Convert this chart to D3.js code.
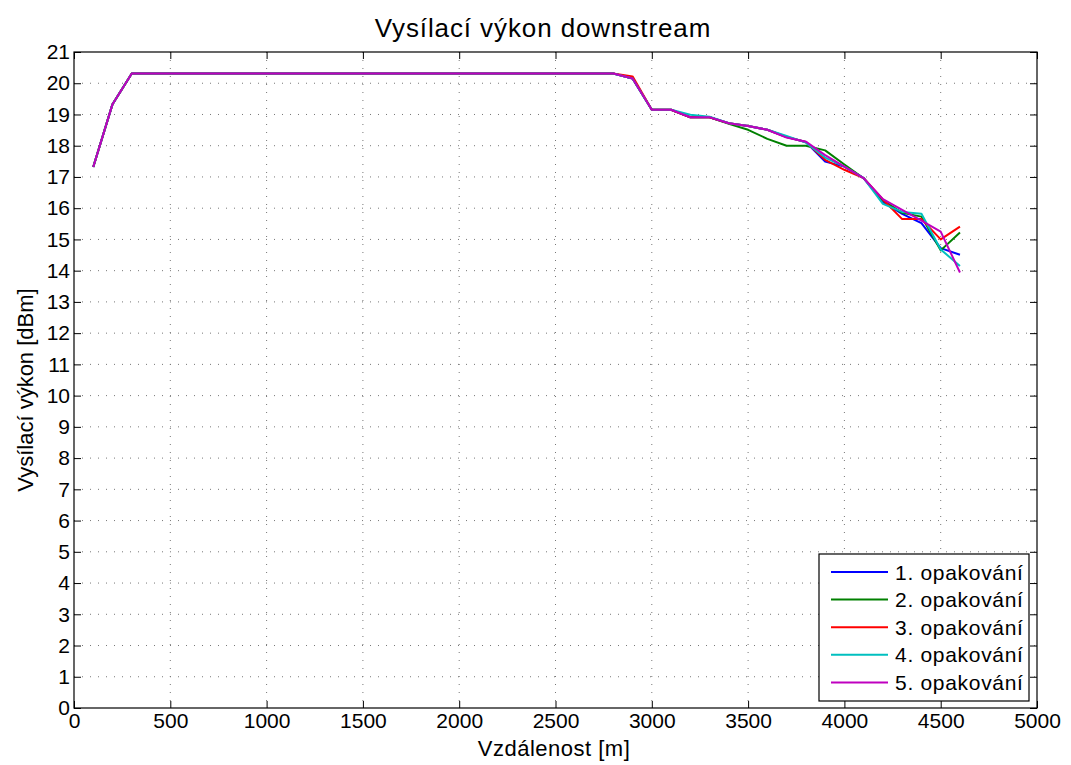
<!DOCTYPE html>
<html><head><meta charset="utf-8">
<script src="https://cdn.jsdelivr.net/npm/d3@7"></script>
<style>body{margin:0;background:#fff;} text{font-family:"Liberation Sans",Arial,sans-serif;fill:#000;}</style>
</head><body>
<svg id="c" width="1071" height="765"></svg>
<script>
const distances = [100,200,300,400,500,600,700,800,900,1000,1100,1200,1300,1400,1500,1600,1700,1800,1900,2000,2100,2200,2300,2400,2500,2600,2700,2800,2900,3000,3100,3200,3300,3400,3500,3600,3700,3800,3900,4000,4100,4200,4300,4400,4500,4600];
const flatPart = [17.32,19.33,20.31,20.31,20.31,20.31,20.31,20.31,20.31,20.31,20.31,20.31,20.31,20.31,20.31,20.31,20.31,20.31,20.31,20.31,20.31,20.31,20.31,20.31,20.31,20.31,20.31,20.31];
const run1 = flatPart.concat([20.15,19.15,19.15,18.91,18.91,18.72,18.63,18.51,18.28,18.12,17.49,17.33,16.96,16.2,15.82,15.52,14.72,14.51]);
const run2 = flatPart.concat([20.15,19.15,19.15,18.91,18.91,18.70,18.51,18.22,18.0,18.0,17.85,17.4,16.96,16.25,15.85,15.73,14.65,15.22]);
const run3 = flatPart.concat([20.22,19.15,19.15,18.91,18.91,18.72,18.63,18.51,18.28,18.12,17.55,17.23,16.96,16.28,15.65,15.65,15.0,15.41]);
const run4 = flatPart.concat([20.15,19.15,19.15,18.99,18.93,18.72,18.63,18.51,18.31,18.1,17.62,17.33,16.96,16.14,15.88,15.82,14.68,14.15]);
const run5 = flatPart.concat([20.15,19.15,19.15,18.91,18.91,18.72,18.63,18.51,18.26,18.13,17.7,17.33,16.96,16.29,15.95,15.6,15.25,13.94]);
const seriesNames = ["1. opakování","2. opakování","3. opakování","4. opakování","5. opakování"];
const seriesColors = ["#0000ff","#008000","#ff0000","#00bfbf","#bf00bf"];
const allRuns = [run1,run2,run3,run4,run5];
const xTicks = [0,500,1000,1500,2000,2500,3000,3500,4000,4500,5000];
const yTicks = d3.range(0,22,1);

const L=74,R=1037,T=52,B=708;
const svg=d3.select("#c");
const x=d3.scaleLinear().domain([0,5000]).range([L,R]);
const y=d3.scaleLinear().domain([0,21]).range([B,T]);

// grid
const g=svg.append("g");
g.selectAll(".gx").data(xTicks.slice(1,-1)).join("line")
 .attr("x1",d=>x(d)).attr("x2",d=>x(d)).attr("y1",T).attr("y2",B)
 .attr("stroke","#777").attr("stroke-width",1).attr("stroke-dasharray","1,7");
g.selectAll(".gy").data(yTicks.slice(1,-1)).join("line")
 .attr("y1",d=>y(d)).attr("y2",d=>y(d)).attr("x1",L).attr("x2",R)
 .attr("stroke","#777").attr("stroke-width",1).attr("stroke-dasharray","1,7");

// lines
const line=d3.line().x((d,i)=>x(distances[i])).y(d=>y(d));
allRuns.forEach((r,k)=>{
  svg.append("path").datum(r).attr("d",line).attr("fill","none")
   .attr("stroke",seriesColors[k]).attr("stroke-width",2).attr("stroke-linejoin","round");
});

// axes with inward ticks
const tl=7;
const fmt=d3.format("d");
const axg=svg.append("g").attr("transform",`translate(0,${B})`).call(d3.axisBottom(x).tickValues(xTicks).tickSizeInner(-tl).tickSizeOuter(0).tickPadding(4).tickFormat(fmt));
const axt=svg.append("g").attr("transform",`translate(0,${T})`).call(d3.axisTop(x).tickValues(xTicks).tickSizeInner(-tl).tickSizeOuter(0).tickFormat(""));
const ayg=svg.append("g").attr("transform",`translate(${L},0)`).call(d3.axisLeft(y).tickValues(yTicks).tickSizeInner(-tl).tickSizeOuter(0).tickPadding(4).tickFormat(fmt));
const ayr=svg.append("g").attr("transform",`translate(${R},0)`).call(d3.axisRight(y).tickValues(yTicks).tickSizeInner(-tl).tickSizeOuter(0).tickFormat(""));
[axg,axt,ayg,ayr].forEach(a=>{a.select(".domain").remove();a.selectAll("line").attr("stroke","#000");});
axg.selectAll("text").attr("font-size",21).attr("fill","#000").attr("font-family","Liberation Sans, Arial, sans-serif").attr("y",4).attr("dy","0.78em");
ayg.selectAll("text").attr("font-size",21).attr("fill","#000").attr("font-family","Liberation Sans, Arial, sans-serif").attr("x",-4);
svg.append("rect").attr("x",L).attr("y",T).attr("width",R-L).attr("height",B-T).attr("fill","none").attr("stroke","#000").attr("stroke-width",1.2);

// titles
svg.append("text").attr("x",543).attr("y",37).attr("text-anchor","middle").attr("font-size",26).attr("letter-spacing",0.9).text("Vysílací výkon downstream");
svg.append("text").attr("x",554).attr("y",756).attr("text-anchor","middle").attr("font-size",22).attr("letter-spacing",0.5).text("Vzdálenost [m]");
svg.append("text").attr("transform",`translate(33,390) rotate(-90)`).attr("text-anchor","middle").attr("font-size",22).text("Vysílací výkon [dBm]");

// legend
const lg=svg.append("g");
lg.append("rect").attr("x",819).attr("y",554).attr("width",210).attr("height",147).attr("fill","#fff").attr("stroke","#000").attr("stroke-width",1.2);
seriesNames.forEach((n,i)=>{
  const yy=572+i*27.6;
  lg.append("line").attr("x1",831).attr("x2",888).attr("y1",yy).attr("y2",yy).attr("stroke",seriesColors[i]).attr("stroke-width",2);
  lg.append("text").attr("x",895).attr("y",yy).attr("dy","0.36em").attr("font-size",21).attr("letter-spacing",0.7).text(n);
});
</script>
</body></html>
